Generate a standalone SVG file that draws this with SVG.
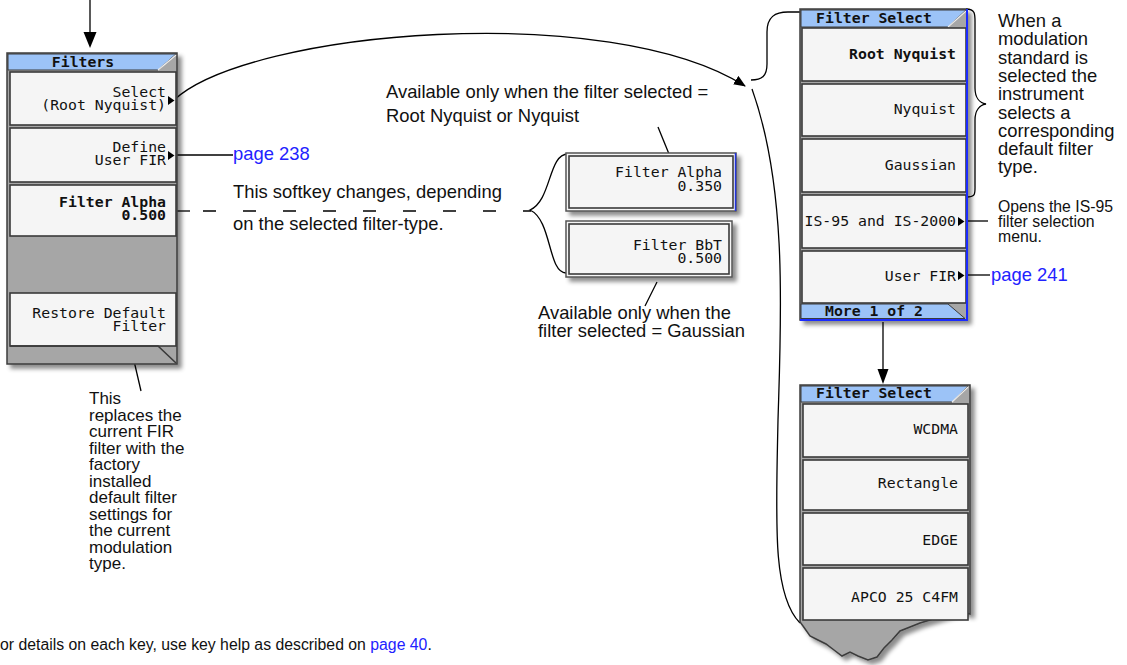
<svg xmlns="http://www.w3.org/2000/svg" width="1127" height="665" viewBox="0 0 1127 665">
<style>
.panel{fill:#a6a6a6;stroke:#3c3c3c;stroke-width:1.5}
.key{fill:#f5f5f5;stroke:#3a3a3a;stroke-width:1.6}
.hdr{fill:#9cc3f7;stroke:#3a3a3a;stroke-width:1}
.mono{font-family:"DejaVu Sans Mono","Liberation Mono",monospace;font-size:14.8px;fill:#111;text-anchor:end}
.b{font-weight:bold}
.ttl{font-family:"DejaVu Sans Mono","Liberation Mono",monospace;font-size:14.8px;font-weight:bold;fill:#111;text-anchor:middle}
.lbl{font-family:"Liberation Sans",Arial,sans-serif;font-size:18.4px;fill:#111}
.sm{font-family:"Liberation Sans",Arial,sans-serif;font-size:15.8px;fill:#111}
.bl{font-family:"Liberation Sans",Arial,sans-serif;font-size:17px;fill:#111}
.link{fill:#2222ff}
.ln{fill:none;stroke:#000;stroke-width:1.3}
.tri{fill:#000}
</style>
<defs>
<filter id="sh" x="-10%" y="-10%" width="130%" height="130%">
<feDropShadow dx="4" dy="4" stdDeviation="2" flood-color="#000" flood-opacity="0.45"/>
</filter>
<marker id="ah" viewBox="0 0 12 10" refX="11" refY="5" markerWidth="12" markerHeight="10" markerUnits="userSpaceOnUse" orient="auto">
<path d="M0,0 L12,5 L0,10 Z" fill="#000"/>
</marker>
</defs>

<g id="connectors">
<line class="ln" x1="90" y1="0" x2="90" y2="34" stroke-width="2"/>
<polygon class="tri" points="83.5,32 96.5,32 90,48"/>
<path class="ln" d="M174,100 C250,30 610,0 745,86" marker-end="url(#ah)"/>
<path class="ln" d="M751,80 C762,80 767,76 767,64 L767,32 C767,17 775,12 788,12 L800,12"/>
<path class="ln" d="M752,89 C788,190 781,320 778,420 C776,520 772,595 800,623"/>
<line class="ln" x1="174" y1="155" x2="233" y2="155" stroke-width="2"/>
<line class="ln" x1="177" y1="211" x2="190" y2="211" stroke-width="2"/>
<line class="ln" x1="203" y1="211" x2="531" y2="211" stroke-width="2" stroke-dasharray="13,27"/>
<path class="ln" d="M568,154 C548,154 552,200 530,210 C552,220 548,273 566,273"/>
<line class="ln" x1="658" y1="127" x2="669" y2="154"/>
<line class="ln" x1="657" y1="282" x2="645" y2="306"/>
<line class="ln" x1="128" y1="335" x2="141" y2="391"/>
<path class="ln" d="M966,9 C976,9 975,15 975,25 L975,88 C975,98 980,103 986,104 C980,105 975,110 975,120 L975,185 C975,194 976,197 966,197"/>
<line class="ln" x1="965" y1="221" x2="988" y2="221" stroke-width="2"/>
<line class="ln" x1="965" y1="275" x2="990" y2="275" stroke-width="2"/>
<line class="ln" x1="883" y1="322" x2="883" y2="371" stroke-width="2"/>
<polygon class="tri" points="877.5,369 888.5,369 883,384"/>
</g>

<g id="filters-menu">
<g filter="url(#sh)">
<rect class="panel" x="7" y="53" width="170" height="311"/>
</g>
<polygon class="hdr" points="8,54 176,54 158,70 8,70"/>
<line x1="176" y1="55" x2="158" y2="70" stroke="#eee" stroke-width="1.2"/>
<text class="ttl" x="83" y="67">Filters</text>
<rect class="key" x="10" y="72" width="166" height="53"/>
<text class="mono" x="166" y="97">Select<tspan x="166" dy="13">(Root Nyquist)</tspan></text>
<polygon class="tri" points="168,96 168,105 174.5,100.5"/>
<rect class="key" x="10" y="128" width="166" height="54"/>
<text class="mono" x="166" y="152">Define<tspan x="166" dy="13">User FIR</tspan></text>
<polygon class="tri" points="168,151 168,160 174.5,155.5"/>
<rect class="key" x="10" y="185" width="166" height="51"/>
<text class="mono b" x="166" y="207">Filter Alpha<tspan x="166" dy="13">0.500</tspan></text>
<rect class="key" x="10" y="293" width="166" height="53"/>
<text class="mono" x="166" y="318">Restore Default<tspan x="166" dy="13">Filter</tspan></text>
<polyline points="10,346 158,346 176,363" fill="none" stroke="#3a3a3a" stroke-width="1.6"/>
</g>

<g id="alpha-key">
<g filter="url(#sh)">
<rect x="566" y="153" width="170" height="58" fill="#f5f5f5" stroke="#555" stroke-width="1.5"/>
</g>
<rect class="key" x="569" y="156" width="164" height="52"/>
<line x1="735.5" y1="153" x2="735.5" y2="211" stroke="#2233dd" stroke-width="1.5"/>
<text class="mono" x="722" y="177">Filter Alpha<tspan x="722" dy="14">0.350</tspan></text>
</g>

<g id="bbt-key">
<g filter="url(#sh)">
<rect x="566" y="221" width="166" height="56" fill="#f5f5f5" stroke="#555" stroke-width="1.5"/>
</g>
<rect class="key" x="569" y="224" width="160" height="50"/>
<text class="mono" x="722" y="250">Filter BbT<tspan x="722" dy="13">0.500</tspan></text>
</g>

<g id="filter-select-1">
<g filter="url(#sh)">
<rect class="panel" x="800" y="9" width="167" height="311"/>
</g>
<polygon class="hdr" points="801,10 966,10 948,27 801,27"/>
<line x1="966" y1="11" x2="948" y2="27" stroke="#eee" stroke-width="1.2"/>
<text class="ttl" x="874" y="23">Filter Select</text>
<rect class="key" x="802" y="28" width="164" height="53"/>
<text class="mono b" x="956" y="59">Root Nyquist</text>
<rect class="key" x="802" y="84" width="164" height="52"/>
<text class="mono" x="956" y="114">Nyquist</text>
<rect class="key" x="802" y="139" width="164" height="53"/>
<text class="mono" x="956" y="170">Gaussian</text>
<rect class="key" x="802" y="195" width="164" height="53"/>
<text class="mono" x="956" y="226">IS-95 and IS-2000</text>
<polygon class="tri" points="958,217 958,226 964.5,221.5"/>
<rect class="key" x="802" y="251" width="164" height="52"/>
<text class="mono" x="956" y="281">User FIR</text>
<polygon class="tri" points="958,271 958,280 964.5,275.5"/>
<polygon class="hdr" points="801,304 948,304 965,318.5 801,318.5"/>
<text class="ttl" x="874" y="316">More 1 of 2</text>
<polyline points="967,9 967,320 800,320" fill="none" stroke="#1a2aff" stroke-width="2"/>
</g>

<g id="filter-select-2">
<g filter="url(#sh)">
<path class="panel" d="M800,385 L970,385 L970,614 L962,612 L950,614 L940,617 L930,620 L920,623 L910,627 L900,631 L892,640 L884,648 L877,657 L868,660 L858,656 L850,652 L842,656 L834,650 L826,644 L818,640 L810,636 L803,626 L800,622 Z"/>
</g>
<polygon class="hdr" points="801,386 968,386 952,402 801,402"/>
<line x1="968" y1="387" x2="952" y2="402" stroke="#eee" stroke-width="1.2"/>
<text class="ttl" x="874" y="398">Filter Select</text>
<rect class="key" x="803" y="404" width="165" height="53"/>
<text class="mono" x="958" y="434">WCDMA</text>
<rect class="key" x="803" y="460" width="165" height="50"/>
<text class="mono" x="958" y="488">Rectangle</text>
<rect class="key" x="803" y="513" width="165" height="52"/>
<text class="mono" x="958" y="545">EDGE</text>
<rect class="key" x="803" y="568" width="165" height="52"/>
<text class="mono" x="958" y="602">APCO 25 C4FM</text>
</g>

<g id="labels">
<text class="lbl link" x="233" y="160">page 238</text>
<text class="lbl" x="233" y="198">This softkey changes, depending</text>
<text class="lbl" x="233" y="230">on the selected filter-type.</text>
<text class="lbl" x="386" y="98">Available only when the filter selected =</text>
<text class="lbl" x="386" y="122">Root Nyquist or Nyquist</text>
<text class="lbl" x="538" y="319">Available only when the<tspan x="538" dy="18">filter selected = Gaussian</tspan></text>
<text class="lbl" x="998" y="27">When a<tspan x="998" dy="18.3">modulation</tspan><tspan x="998" dy="18.3">standard is</tspan><tspan x="998" dy="18.3">selected the</tspan><tspan x="998" dy="18.3">instrument</tspan><tspan x="998" dy="18.3">selects a</tspan><tspan x="998" dy="18.3">corresponding</tspan><tspan x="998" dy="18.3">default filter</tspan><tspan x="998" dy="18.3">type.</tspan></text>
<text class="sm" x="998" y="212">Opens the IS-95<tspan x="998" dy="15">filter selection</tspan><tspan x="998" dy="15">menu.</tspan></text>
<text class="lbl link" x="991" y="281">page 241</text>
<text class="bl" x="89" y="404">This<tspan x="89" dy="16.5">replaces the</tspan><tspan x="89" dy="16.5">current FIR</tspan><tspan x="89" dy="16.5">filter with the</tspan><tspan x="89" dy="16.5">factory</tspan><tspan x="89" dy="16.5">installed</tspan><tspan x="89" dy="16.5">default filter</tspan><tspan x="89" dy="16.5">settings for</tspan><tspan x="89" dy="16.5">the current</tspan><tspan x="89" dy="16.5">modulation</tspan><tspan x="89" dy="16.5">type.</tspan></text>
<text class="sm" x="0" y="650">or details on each key, use key help as described on <tspan class="link">page 40</tspan>.</text>
</g>
</svg>
